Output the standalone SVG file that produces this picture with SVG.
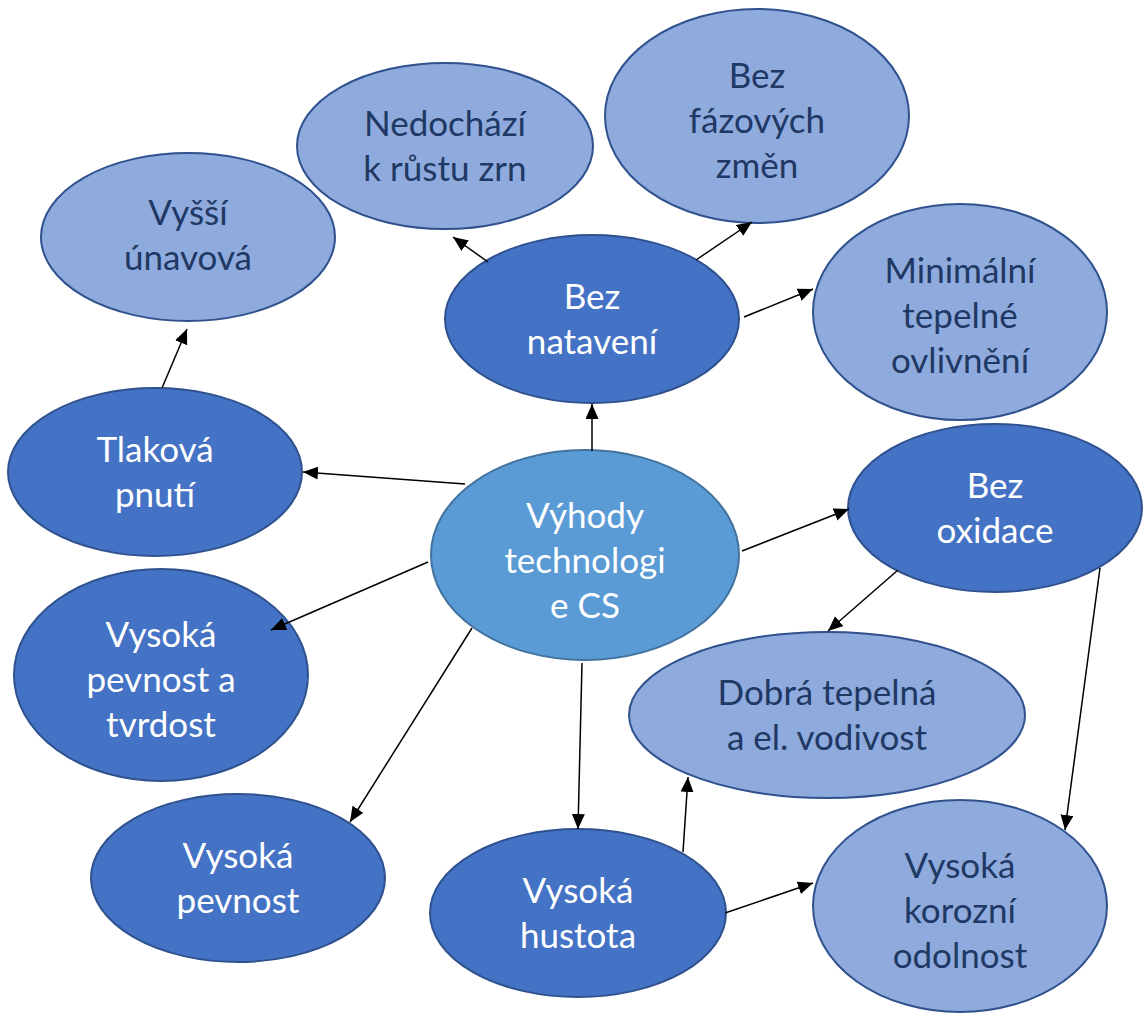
<svg xmlns="http://www.w3.org/2000/svg" width="1143" height="1014" viewBox="0 0 1143 1014">
<style>
.dark ellipse{fill:#4472C4;stroke:#2F528F;stroke-width:2}
.light ellipse{fill:#8FAADC;stroke:#2F528F;stroke-width:2}
.center ellipse{fill:#5B9BD5;stroke:#41719C;stroke-width:2}
text{font-family:Lato,"Open Sans","Liberation Sans",sans-serif;font-size:35px;text-anchor:middle}
.dark text,.center text{fill:#FFFFFF}
.light text{fill:#203864}
#edges line{stroke:#000;stroke-width:1.5;fill:none;marker-end:url(#arr)}
</style>
<defs>
<marker id="arr" markerUnits="userSpaceOnUse" markerWidth="16" markerHeight="14" refX="15" refY="6.5" orient="auto">
<path d="M0,0 L15,6.5 L0,13 z" fill="#000"/>
</marker>
<clipPath id="cclip"><rect x="420" y="440" width="330" height="179"/></clipPath>
</defs>
<rect width="1143" height="1014" fill="#FFFFFF"/>
<g id="n-vyssi" class="light"><ellipse cx="188" cy="237" rx="147" ry="84"/><text x="188" y="225">Vyšší</text><text x="188" y="270">únavová</text></g>
<g id="n-nedochazi" class="light"><ellipse cx="445" cy="146" rx="148" ry="83"/><text x="445" y="136">Nedochází</text><text x="445" y="181">k růstu zrn</text></g>
<g id="n-bezfaz" class="light"><ellipse cx="757" cy="116" rx="152" ry="107"/><text x="757" y="88">Bez</text><text x="757" y="133">fázových</text><text x="757" y="178">změn</text></g>
<g id="n-beznat" class="dark"><ellipse cx="592" cy="319" rx="147" ry="84"/><text x="592" y="309">Bez</text><text x="592" y="354">natavení</text></g>
<g id="n-minimalni" class="light"><ellipse cx="960" cy="312" rx="147" ry="108"/><text x="960" y="283">Minimální</text><text x="960" y="328">tepelné</text><text x="960" y="373">ovlivnění</text></g>
<g id="n-tlakova" class="dark"><ellipse cx="155" cy="472" rx="147" ry="84"/><text x="155" y="462">Tlaková</text><text x="155" y="507">pnutí</text></g>
<g id="n-center" class="center"><ellipse cx="585" cy="555" rx="154" ry="105"/><g clip-path="url(#cclip)"><text x="585" y="528">Výhody</text><text x="585" y="573">technologi</text><text x="585" y="618">e CS</text></g></g>
<g id="n-bezox" class="dark"><ellipse cx="995" cy="508" rx="147" ry="84"/><text x="995" y="498">Bez</text><text x="995" y="543">oxidace</text></g>
<g id="n-vpat" class="dark"><ellipse cx="161" cy="675" rx="147" ry="106"/><text x="161" y="647">Vysoká</text><text x="161" y="692">pevnost a</text><text x="161" y="737">tvrdost</text></g>
<g id="n-dobra" class="light"><ellipse cx="827" cy="715" rx="198" ry="83"/><text x="827" y="705">Dobrá tepelná</text><text x="827" y="750">a el. vodivost</text></g>
<g id="n-vp" class="dark"><ellipse cx="238" cy="878" rx="147" ry="84"/><text x="238" y="868">Vysoká</text><text x="238" y="913">pevnost</text></g>
<g id="n-vh" class="dark"><ellipse cx="578" cy="913" rx="148" ry="84"/><text x="578" y="903">Vysoká</text><text x="578" y="948">hustota</text></g>
<g id="n-vk" class="light"><ellipse cx="960" cy="906" rx="147" ry="106"/><text x="960" y="878">Vysoká</text><text x="960" y="923">korozní</text><text x="960" y="968">odolnost</text></g>
<g id="edges">
<line x1="162" y1="388" x2="187" y2="329"/>
<line x1="592" y1="451" x2="592" y2="404"/>
<line x1="488" y1="262" x2="453" y2="237"/>
<line x1="696" y1="260" x2="752" y2="222"/>
<line x1="744" y1="317" x2="813" y2="289"/>
<line x1="465" y1="484" x2="303" y2="472"/>
<line x1="428" y1="562" x2="271" y2="630"/>
<line x1="472" y1="628" x2="350" y2="822"/>
<line x1="582" y1="663" x2="578" y2="829"/>
<line x1="683" y1="852" x2="688" y2="777"/>
<line x1="725" y1="913" x2="813" y2="883"/>
<line x1="742" y1="551" x2="849" y2="509"/>
<line x1="898" y1="570" x2="828" y2="631"/>
<line x1="1100" y1="568" x2="1065" y2="830"/>
</g>
</svg>
